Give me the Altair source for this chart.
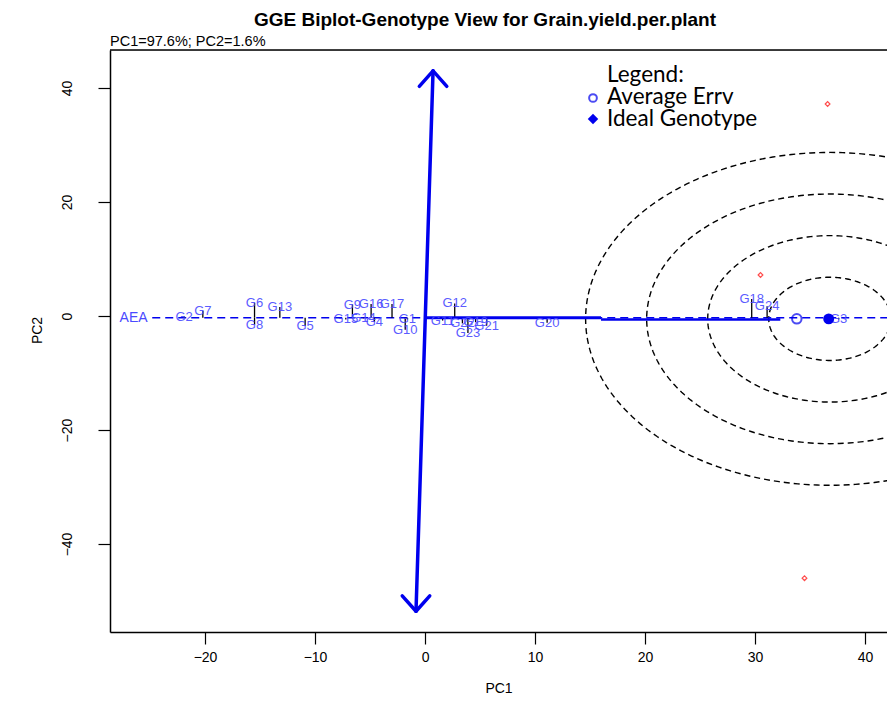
import altair as alt
import pandas as pd
import numpy as np

# ---------------- data ----------------
geno = ["G2", "G7", "G6", "G8", "G13", "G5", "G9", "G16", "G17", "G15", "G4",
        "G14", "G1", "G10", "G12", "G11", "G22", "G19", "G23", "G21", "G20",
        "G18", "G24", "G3"]
geno_pc1 = [-21.9, -20.2, -15.5, -15.5, -13.2, -10.9, -6.6, -4.9, -3.0, -7.2, -4.6,
            -5.6, -1.6, -1.8, 2.7, 1.6, 3.4, 4.6, 3.9, 5.6, 11.1,
            29.7, 31.1, 37.6]
geno_pc2 = [-0.1, 0.9, 2.3, -1.5, 1.6, -1.7, 2.0, 2.1, 2.1, -0.6, -1.0,
            -0.4, -0.6, -2.4, 2.2, -0.8, -1.3, -1.1, -3.0, -1.7, -1.2,
            3.0, 1.7, -0.6]

env_pc1 = [36.6, 30.5, 34.5]
env_pc2 = [37.2, 7.2, -46.0]

aea_y = -0.3
aea_label_x = -26.5
aea_start = -24.8
solid1 = [0.0, 16.0]
solid2 = [16.0, 32.3]
solid2_y = -0.6

arrow_top = (0.73, 43.0)
arrow_bot = (-0.82, -51.8)

avg_env = (33.8, -0.5)
ideal = (36.7, -0.5)
ring_center = (36.8, -0.5)
ring_rx = [5.55, 11.1, 16.65, 22.2]
ring_ry = [7.3, 14.6, 21.9, 29.2]

x_ticks = [-20, -10, 0, 10, 20, 30, 40]
y_ticks = [-40, -20, 0, 20, 40]
x_domain = [-28.64, 42.0]
y_domain = [-55.44, 46.67]

title_text = "GGE Biplot-Genotype View for Grain.yield.per.plant"
subtitle_text = "PC1=97.6%; PC2=1.6%"
legend_lines = ["Legend:", "Average Errv", "Ideal Genotype"]

# ---------------- helpers ----------------
W, H = 777, 582
BLUE = "#0000ee"
LBLUE = "#4a4aff"
LEGEND_FONT = "Lato"

xaxis = alt.Axis(values=x_ticks, grid=False, tickSize=12, tickColor="black", tickWidth=1.2,
                 domainColor="black", domainWidth=1.5, labelFontSize=14, labelColor="black",
                 labelFont="Liberation Sans", labelPadding=6, title="PC1", titleFontSize=14,
                 titleFont="Liberation Sans", titleFontWeight="normal", titleColor="black",
                 titlePadding=17)
yaxis = alt.Axis(values=y_ticks, grid=False, tickSize=12, tickColor="black", tickWidth=1.2,
                 domainColor="black", domainWidth=1.5, labelFontSize=14, labelColor="black",
                 labelFont="Liberation Sans", labelAngle=-90, labelAlign="center",
                 labelBaseline="middle", labelPadding=31, title="PC2", titleFontSize=14,
                 titleFont="Liberation Sans", titleFontWeight="normal", titleColor="black",
                 titleX=-66, titleY=280)
xs = alt.Scale(domain=x_domain, nice=False, zero=False)
ys = alt.Scale(domain=y_domain, nice=False, zero=False)


def X(f):
    return alt.X(f, type="quantitative", scale=xs, axis=xaxis)


def Y(f):
    return alt.Y(f, type="quantitative", scale=ys, axis=yaxis)


# ---------------- tables ----------------
g = pd.DataFrame({"name": geno, "x": geno_pc1, "y": geno_pc2})
proj = pd.DataFrame({"x": geno_pc1, "y": geno_pc2, "x2": geno_pc1, "y2": [aea_y] * len(geno)})

rows = []
th = np.linspace(0, 2 * np.pi, 241)
for k, (rx, ry) in enumerate(zip(ring_rx, ring_ry)):
    for i, t in enumerate(th):
        rows.append({"ring": k, "i": i, "x": ring_center[0] + rx * np.cos(t),
                     "y": ring_center[1] + ry * np.sin(t)})
rings = pd.DataFrame(rows)

aea_dash = pd.DataFrame({"x": [aea_start], "x2": [x_domain[1]], "y": [aea_y], "y2": [aea_y]})
solid_a = pd.DataFrame({"x": [solid1[0]], "x2": [solid1[1]], "y": [aea_y], "y2": [aea_y]})
solid_b = pd.DataFrame({"x": [solid2[0]], "x2": [solid2[1]], "y": [solid2_y], "y2": [solid2_y]})

hdx, hdy = 1.25, 2.7
arrow = pd.DataFrame({
    "x": [arrow_bot[0], arrow_top[0], arrow_top[0], arrow_bot[0], arrow_bot[0]],
    "y": [arrow_bot[1], arrow_top[1], arrow_top[1], arrow_bot[1], arrow_bot[1]],
    "x2": [arrow_top[0], arrow_top[0] - hdx, arrow_top[0] + hdx,
           arrow_bot[0] - hdx, arrow_bot[0] + hdx],
    "y2": [arrow_top[1], arrow_top[1] - hdy, arrow_top[1] - hdy,
           arrow_bot[1] + hdy, arrow_bot[1] + hdy],
})

env = pd.DataFrame({"x": env_pc1, "y": env_pc2})
avg = pd.DataFrame({"x": [avg_env[0]], "y": [avg_env[1]]})
idl = pd.DataFrame({"x": [ideal[0]], "y": [ideal[1]]})
aea_lab = pd.DataFrame({"x": [aea_label_x], "y": [aea_y], "t": ["AEA"]})


def seg(df, **kw):
    return alt.Chart(df).mark_rule(clip=True, **kw).encode(
        x=X("x"), y=Y("y"), x2=alt.X2("x2"), y2=alt.Y2("y2"))


def legend_text(i, y):
    return alt.Chart(avg).mark_text(text=legend_lines[i], fontSize=22.5, font=LEGEND_FONT,
                                    align="left", color="black").encode(
        x=alt.value(497), y=alt.value(y))


layers = [
    alt.Chart(rings).mark_line(clip=True, color="black", strokeWidth=1.4,
                               strokeDash=[6, 4]).encode(
        x=X("x"), y=Y("y"), detail="ring:N", order="i:Q"),
    seg(aea_dash, color=BLUE, strokeWidth=1.5, strokeDash=[8, 5]),
    seg(proj, color="black", strokeWidth=1.3),
    seg(solid_a, color=BLUE, strokeWidth=3),
    seg(solid_b, color=BLUE, strokeWidth=2.4),
    seg(arrow, color=BLUE, strokeWidth=3.5, strokeCap="round"),
    alt.Chart(g).mark_text(color=LBLUE, fontSize=13, font="Liberation Sans", opacity=0.9).encode(
        x=X("x"), y=Y("y"), text="name:N"),
    alt.Chart(aea_lab).mark_text(color=LBLUE, fontSize=14, font="Liberation Sans").encode(
        x=X("x"), y=Y("y"), text="t:N"),
    alt.Chart(env).mark_point(shape="diamond", filled=False, color="red", size=22,
                              strokeWidth=1.2).encode(x=X("x"), y=Y("y")),
    alt.Chart(avg).mark_point(shape="circle", filled=False, color=BLUE, size=90,
                              strokeWidth=2).encode(x=X("x"), y=Y("y")),
    alt.Chart(idl).mark_point(shape="circle", filled=True, color=BLUE, size=120,
                              opacity=1).encode(x=X("x"), y=Y("y")),
    # frame top
    alt.Chart(avg).mark_rule(color="black", strokeWidth=1.5).encode(y=alt.value(0)),
    # title / subtitle
    alt.Chart(avg).mark_text(text=title_text, fontSize=19, fontWeight="bold",
                             font="Liberation Sans", align="center").encode(
        x=alt.value(375), y=alt.value(-30)),
    alt.Chart(avg).mark_text(text=subtitle_text, fontSize=14.5, font="Liberation Sans",
                             align="left").encode(x=alt.value(0), y=alt.value(-8)),
    # legend
    legend_text(0, 25),
    legend_text(1, 47),
    legend_text(2, 69),
    alt.Chart(avg).mark_point(shape="circle", filled=False, color=BLUE, size=60,
                              strokeWidth=2).encode(x=alt.value(483), y=alt.value(48)),
    alt.Chart(avg).mark_point(shape="diamond", filled=True, color=BLUE, size=110,
                              opacity=1).encode(x=alt.value(483), y=alt.value(69)),
]

chart = alt.layer(*layers).properties(
    width=W, height=H,
    autosize=alt.AutoSizeParams(type="none"),
    padding={"left": 102, "top": 42, "right": 0, "bottom": 70},
).configure_view(stroke=None).configure(background="white")

chart.save("out.html", embed_options={"renderer": "svg", "actions": False})
